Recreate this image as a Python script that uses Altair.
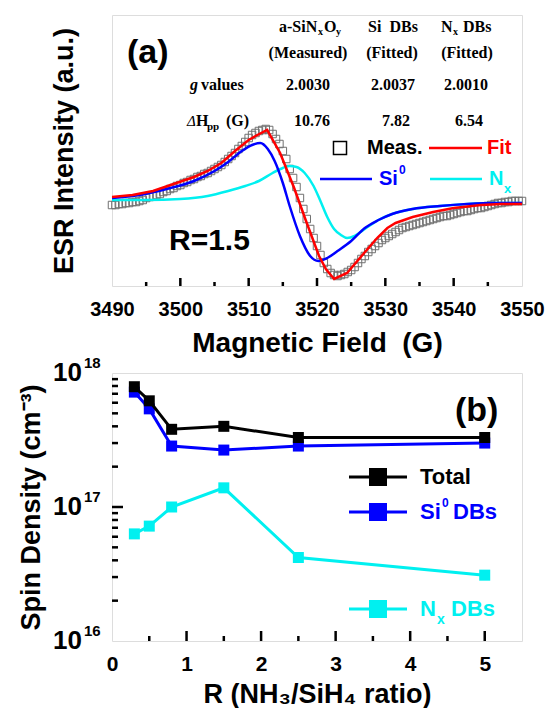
import altair as alt
import pandas as pd

SANS = "Liberation Sans"
SERIF = "Liberation Serif"
NB = "\u00a0"

# ---------------- Panel (a): ESR spectrum, R = 1.5 ----------------
meas_field = [3490 + 0.5 * i for i in range(121)]
meas_int = [-4, -4, -3, -3, -2, -2, -1, -1, 0, 1,
            3, 4, 5, 6, 7, 9, 10, 12, 13, 15,
            16, 18, 19, 21, 22, 24, 25, 27, 28, 30,
            32, 34, 36, 39, 42, 45, 48, 52, 55, 59,
            63, 66, 68, 70, 71, 72, 71, 67, 62, 57,
            50, 42, 32, 23, 14, 3, -8, -18, -28, -37,
            -45, -54, -62, -68, -72, -74, -75, -74, -73, -71,
            -69, -66, -62, -58, -55, -51, -48, -45, -42, -39,
            -37, -35, -33, -31, -29, -27, -26, -25, -24, -23,
            -22, -21, -20, -19, -18, -17, -16, -15, -15, -14,
            -13, -12, -11, -10, -10, -9, -8, -7, -7, -6,
            -5, -4, -3, -2, -2, -1, -1, 0, 0, 0,
            0]

fit_field = [3490, 3493, 3496, 3499, 3502, 3504, 3506, 3508, 3510, 3511,
             3512.7, 3514.6, 3516.6, 3518.5, 3520.3, 3521.3, 3522.5, 3524.4,
             3526.9, 3528.8, 3530.3, 3531.5, 3534, 3537, 3540, 3544, 3547, 3550]
fit_int = [4, 6, 10, 17, 24, 30, 38, 50, 61, 65,
           71, 48, 14, -22, -55, -68, -78, -72,
           -52, -37, -27, -22, -16, -11, -7, -4, -3, -3]

si_field = [3490, 3494, 3498, 3502, 3505, 3507, 3509, 3510.5, 3511.7, 3512.8,
            3513.8, 3515, 3516, 3517.5, 3519, 3520.2, 3521.5, 3523, 3525, 3527,
            3529, 3531, 3534, 3538, 3542, 3546, 3550]
si_int = [3, 6, 12, 20, 30, 39, 50, 56, 58, 52,
          40, 18, -5, -35, -55, -60, -57, -50, -40, -27,
          -19, -13, -8, -5, -3, -2, -2]

nx_field = [3490, 3495, 3500, 3504, 3507, 3509.5, 3511.5, 3513.5, 3515, 3516,
            3517, 3518.2, 3519.5, 3520.5, 3521.5, 3522.5, 3523.5, 3524.4, 3525.5, 3527,
            3529, 3531, 3534, 3538, 3542, 3546, 3550]
nx_int = [1, 1, 2, 5, 10, 15, 20, 28, 33, 35,
          34, 28, 15, 0, -16, -28, -34, -37, -35, -28,
          -19, -13, -8, -5, -3, -2, -2]

field_ticks = [3490, 3500, 3510, 3520, 3530, 3540, 3550]
field_major = [3500, 3510, 3520, 3530, 3540]
field_minor = [3495, 3505, 3515, 3525, 3535, 3545]

# ---------------- Panel (b): spin density vs R ----------------
ratio = [0.3, 0.5, 0.8, 1.5, 2.5, 5.0]
total = [7.9e17, 6.2e17, 3.8e17, 4.0e17, 3.3e17, 3.3e17]
si0 = [7.2e17, 5.4e17, 2.85e17, 2.66e17, 2.85e17, 3.0e17]
nx = [6.3e16, 7.2e16, 1.0e17, 1.39e17, 4.2e16, 3.1e16]

ratio_ticks = [0, 1, 2, 3, 4, 5]
ratio_major = [1, 2, 3, 4, 5]
ratio_minor = [0.5, 1.5, 2.5, 3.5, 4.5]
density_ticks = [1e16, 1e17, 1e18]
density_exps = ["16", "17", "18"]
density_major = [1e17]
density_minor = [2e16, 3e16, 4e16, 5e16, 6e16, 7e16, 8e16, 9e16,
                 2e17, 3e17, 4e17, 5e17, 6e17, 7e17, 8e17, 9e17]

RED = "#FF0000"
BLUE = "#0000FF"
CYAN = "#00F0F0"
GRAY = "#707070"

WA, HA = 410, 271
WB, HB = 410, 268

ONE = pd.DataFrame({"k": [0]})


def txt(s, x, y, size, color="black", font=SANS, weight="bold", style="normal", align="left"):
    return alt.Chart(ONE).mark_text(
        text=s, font=font, fontSize=size, fontWeight=weight, fontStyle=style,
        color=color, align=align, baseline="middle"
    ).encode(x=alt.value(x), y=alt.value(y))


def seg(x1, x2, y, color, w):
    return alt.Chart(ONE).mark_rule(color=color, strokeWidth=w).encode(
        x=alt.value(x1), x2=alt.value(x2), y=alt.value(y))


def sq(x, y, size, color, filled):
    return alt.Chart(ONE).mark_point(
        shape="square", filled=filled, size=size, color=color,
        strokeWidth=1.5, opacity=1, fillOpacity=1
    ).encode(x=alt.value(x), y=alt.value(y))


# ---------- panel (a) ----------
xa = alt.X("field:Q",
           scale=alt.Scale(domain=[3490, 3550], nice=False, zero=False),
           axis=alt.Axis(values=field_ticks, format="d",
                         title="Magnetic Field" + NB + NB + "(G)",
                         labelFont=SANS, labelFontSize=20, labelFontWeight="bold",
                         labelColor="black", labelPadding=13, labelFlush=False,
                         labelOverlap=False, ticks=False, tickSize=0, domain=False,
                         grid=False, titleFont=SANS, titleFontSize=28,
                         titleFontWeight="bold", titleColor="black", titlePadding=10))
ya = alt.Y("intensity:Q",
           scale=alt.Scale(domain=[-85, 186], nice=False, zero=False),
           axis=alt.Axis(labels=False, ticks=False, tickSize=0, domain=False, grid=False,
                         title="ESR Intensity (a.u.)", titleFont=SANS, titleFontSize=27,
                         titleFontWeight="bold", titleColor="black", titlePadding=34))

meas_df = pd.DataFrame({"field": meas_field, "intensity": meas_int})
fit_df = pd.DataFrame({"field": fit_field, "intensity": fit_int})
si_df = pd.DataFrame({"field": si_field, "intensity": si_int})
nx_df = pd.DataFrame({"field": nx_field, "intensity": nx_int})

a_layers = [
    alt.Chart(meas_df).mark_point(shape="square", filled=False, size=56, color=GRAY,
                                  strokeWidth=1, opacity=1).encode(x=xa, y=ya),
    alt.Chart(nx_df).mark_line(color=CYAN, strokeWidth=2.5, interpolate="monotone").encode(x=xa, y=ya),
    alt.Chart(si_df).mark_line(color=BLUE, strokeWidth=2.5, interpolate="monotone").encode(x=xa, y=ya),
    alt.Chart(fit_df).mark_line(color=RED, strokeWidth=2.5).encode(x=xa, y=ya),
    alt.Chart(pd.DataFrame({"field": field_major})).mark_rule(color="black", strokeWidth=2.5).encode(
        x=xa, y=alt.value(HA), y2=alt.value(HA - 8)),
    alt.Chart(pd.DataFrame({"field": field_minor})).mark_rule(color="black", strokeWidth=2.5).encode(
        x=xa, y=alt.value(HA), y2=alt.value(HA - 4)),
    # panel label and table
    txt("(a)", 15, 38, 34),
    txt("a-SiN", 167, 12, 16, font=SERIF),
    txt("x", 206, 17, 10, font=SERIF),
    txt("O", 212, 12, 16, font=SERIF),
    txt("y", 224, 17, 10, font=SERIF),
    txt("(Measured)", 196, 38, 16, font=SERIF, align="center"),
    txt("Si" + NB + NB + "DBs", 281, 12, 16, font=SERIF, align="center"),
    txt("(Fitted)", 280, 38, 16, font=SERIF, align="center"),
    txt("N", 329, 12, 16, font=SERIF),
    txt("x", 341, 17, 10, font=SERIF),
    txt("DBs", 351, 12, 16, font=SERIF),
    txt("(Fitted)", 355, 38, 16, font=SERIF, align="center"),
    txt("g", 78, 70, 16, font=SERIF, style="italic"),
    txt("values", 89, 70, 16, font=SERIF),
    txt("2.0030", 196, 70, 16, font=SERIF, align="center"),
    txt("2.0037", 281, 70, 16, font=SERIF, align="center"),
    txt("2.0010", 354, 70, 16, font=SERIF, align="center"),
    txt("\u0394", 75, 106, 15, font=SERIF, style="italic", weight="normal"),
    txt("H", 84, 106, 16, font=SERIF),
    txt("pp", 95, 112, 11, font=SERIF),
    txt("(G)", 114, 106, 16, font=SERIF),
    txt("10.76", 200, 106, 16, font=SERIF, align="center"),
    txt("7.82", 284, 106, 16, font=SERIF, align="center"),
    txt("6.54", 357, 106, 16, font=SERIF, align="center"),
    # legend (a)
    sq(228, 133, 170, "black", False),
    txt("Meas.", 255, 133, 20),
    seg(317, 370, 133, RED, 2.5),
    txt("Fit", 375, 133, 20, color=RED),
    seg(208, 260, 164, BLUE, 2.5),
    txt("Si", 267, 164, 20, color=BLUE),
    txt("0", 287, 155, 12, color=BLUE),
    seg(318, 370, 164, CYAN, 2.5),
    txt("N", 377, 164, 20, color=CYAN),
    txt("x", 392, 174, 13, color=CYAN),
    txt("R=1.5", 57, 226, 30),
]
panel_a = alt.layer(*a_layers).properties(width=WA, height=HA)

# ---------- panel (b) ----------
xb = alt.X("ratio:Q",
           scale=alt.Scale(domain=[0, 5.5], nice=False, zero=False),
           axis=alt.Axis(values=ratio_ticks, format="d",
                         title="R (NH\u2083/SiH\u2084 ratio)",
                         labelFont=SANS, labelFontSize=21, labelFontWeight="bold",
                         labelColor="black", labelPadding=12, labelFlush=False,
                         labelOverlap=False, ticks=False, tickSize=0, domain=False,
                         grid=False, titleFont=SANS, titleFontSize=27,
                         titleFontWeight="bold", titleColor="black", titlePadding=7))
yb = alt.Y("density:Q",
           scale=alt.Scale(type="log", domain=[1e16, 1e18], nice=False),
           axis=alt.Axis(labels=False, ticks=False, tickSize=0, domain=False, grid=False,
                         title="Spin Density (cm\u207B\u00B3)", titleFont=SANS,
                         titleFontSize=27, titleFontWeight="bold", titleColor="black",
                         titlePadding=67))

tot_df = pd.DataFrame({"ratio": ratio, "density": total})
si0_df = pd.DataFrame({"ratio": ratio, "density": si0})
nx_b_df = pd.DataFrame({"ratio": ratio, "density": nx})
lab_df = pd.DataFrame({"density": density_ticks, "exp": density_exps})

b_layers = []
for df, col in [(nx_b_df, CYAN), (si0_df, BLUE), (tot_df, "black")]:
    b_layers.append(alt.Chart(df).mark_line(color=col, strokeWidth=3).encode(x=xb, y=yb))
    b_layers.append(alt.Chart(df).mark_square(color=col, size=121, opacity=1).encode(x=xb, y=yb))

b_layers += [
    alt.Chart(pd.DataFrame({"ratio": ratio_major})).mark_rule(color="black", strokeWidth=2.5).encode(
        x=xb, y=alt.value(HB), y2=alt.value(HB - 10)),
    alt.Chart(pd.DataFrame({"ratio": ratio_minor})).mark_rule(color="black", strokeWidth=2.5).encode(
        x=xb, y=alt.value(HB), y2=alt.value(HB - 5)),
    alt.Chart(pd.DataFrame({"density": density_major})).mark_rule(color="black", strokeWidth=2.5).encode(
        y=yb, x=alt.value(0), x2=alt.value(11)),
    alt.Chart(pd.DataFrame({"density": density_minor})).mark_rule(color="black", strokeWidth=2.5).encode(
        y=yb, x=alt.value(0), x2=alt.value(6)),
    alt.Chart(lab_df).mark_text(text="10", font=SANS, fontSize=26, fontWeight="bold",
                                color="black", align="right", baseline="middle").encode(
        y=yb, x=alt.value(-30)),
    alt.Chart(lab_df).mark_text(font=SANS, fontSize=15, fontWeight="bold", color="black",
                                align="left", baseline="middle", dy=-10).encode(
        y=yb, x=alt.value(-28), text="exp:N"),
    txt("(b)", 343, 38, 34),
    seg(237, 295, 104, "black", 3), sq(266, 104, 324, "black", True),
    txt("Total", 308, 104, 22),
    seg(237, 295, 139, BLUE, 3), sq(266, 139, 324, BLUE, True),
    txt("Si", 308, 139, 22, color=BLUE),
    txt("0", 330, 130, 12, color=BLUE),
    txt("DBs", 341, 139, 22, color=BLUE),
    seg(237, 295, 236, CYAN, 3), sq(266, 236, 324, CYAN, True),
    txt("N", 308, 236, 22, color=CYAN),
    txt("x", 325, 247, 14, color=CYAN),
    txt("DBs", 339, 236, 22, color=CYAN),
]
panel_b = alt.layer(*b_layers).properties(width=WB, height=HB)

chart = alt.vconcat(panel_a, panel_b, spacing=-3).properties(
    padding={"left": 16, "top": 14, "right": 5, "bottom": 0}
).configure_view(stroke="black", strokeWidth=3).configure(background="white")

chart.save("out.html", embed_options={"renderer": "svg", "actions": False})
